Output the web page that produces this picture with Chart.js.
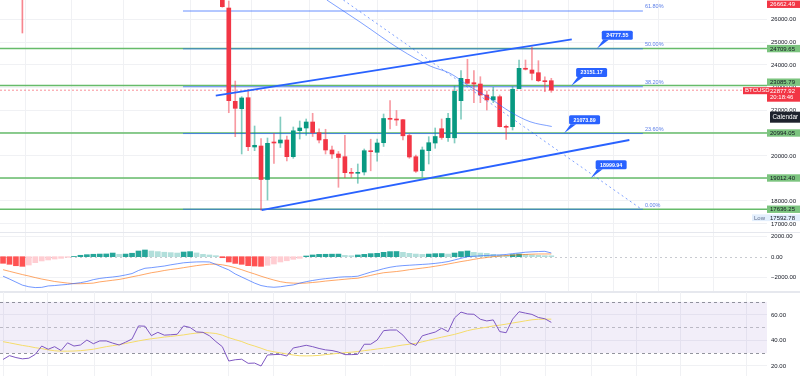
<!DOCTYPE html>
<html>
<head>
<meta charset="utf-8">
<title>BTCUSD</title>
<script src="https://cdn.jsdelivr.net/npm/chart.js@4.4.1/dist/chart.umd.min.js"></script>
<style>
  html, body { margin: 0; padding: 0; background: #fff; }
  #page { position: relative; width: 800px; height: 376px; overflow: hidden; }
  canvas { position: absolute; left: 0; }
  .sep { position: absolute; left: 0; width: 800px; background: #e6e8ee; }
</style>
</head>
<body>
<div id="page">
  <canvas id="priceChart" width="800" height="233" style="top:0"></canvas>
  <div class="sep" style="top:232px;height:1px"></div>
  <canvas id="macdChart" width="800" height="59" style="top:233px"></canvas>
  <div class="sep" style="top:291px;height:2px"></div>
  <canvas id="rsiChart" width="800" height="84" style="top:292px"></canvas>
</div>
<script>
const FONT = "'Liberation Sans', Arial, sans-serif";

// one bar per day, bar 0 at the left edge; earlier candles sit above the visible price range
const firstCandle = 34;
const opens  = [26950, 26497, 22389, 22063, 22548, 20377, 20421, 18946, 20575, 20553, 20685, 19950, 21095, 21214, 21478, 21007, 20707, 20245, 20069, 19950, 19263, 19219, 19276, 20214, 20144, 20566, 21623, 21588, 21579, 20883, 19950, 19334, 20214, 20553, 21183, 20787, 20782, 22416, 23358, 23208, 23151, 22667, 22447, 22592, 21271, 21271, 22944, 23842, 23767, 23649, 23296, 23296];
const highs  = [27050, 26806, 23283, 22592, 22918, 21302, 20751, 20773, 20972, 21698, 20861, 21258, 21522, 21610, 21861, 21178, 21157, 20421, 20179, 20892, 19439, 19629, 20289, 20720, 20729, 21830, 22416, 21984, 21597, 20949, 20025, 20377, 20831, 21214, 21610, 21861, 23063, 23737, 24239, 23737, 23472, 22843, 23006, 22667, 21346, 23032, 24208, 24208, 24777.55, 24177, 23472, 23402];
const lows   = [26530, 21887, 20831, 20069, 20214, 20214, 17592.78, 18043, 19651, 20355, 19761, 19880, 20729, 20892, 20839, 20553, 20069, 19871, 18603, 19025, 19034, 18779, 19144, 19329, 19748, 20399, 21170, 21324, 20685, 19880, 19254, 19056, 19629, 20320, 20716, 20619, 20553, 21597, 23173, 22328, 22328, 22006, 22328, 21258, 20716, 21126, 22944, 23767, 23327, 23252, 22812, 22786];
const closes = [26555, 22416, 22081, 22535, 20390, 20452, 18946, 20540, 20553, 20685, 19950, 21090, 21214, 21478, 21007, 20685, 20245, 20069, 19915, 19246, 19219, 19263, 20214, 20170, 20553, 21632, 21597, 21566, 20870, 19937, 19312, 20245, 20566, 20839, 20795, 21641, 22830, 23402, 23182, 23151, 22667, 22447, 22592, 21271, 21244, 22918, 23842, 23800, 23622, 23296, 23252, 22877.92];
// only the lower wick of this early bar reaches into view
const earlyBar = 3, earlyLow = 25397, earlyHigh = 27300;

const macdHist = [-650, -750, -890, -950, -820, -590, -420, -320, -230, -160, -60, 20, 140, 200, 240, 260, 270, 360, 240, 260, 340, 560, 660, 560, 500, 440, 400, 360, 460, 500, 370, 230, 170, 100, -100, -520, -660, -750, -880, -920, -950, -850, -720, -520, -400, -260, -160, 70, 170, 230, 240, 250, 256, 130, 100, 170, 230, 300, 330, 430, 500, 510, 430, 330, 260, 230, 260, 300, 310, 260, 360, 500, 560, 430, 360, 330, 230, 170, 130, 200, 260, 230, 170, 130, 100, 90];
const macdLine = [-1920, -2200, -2500, -2800, -2960, -3040, -3020, -2880, -2840, -2780, -2730, -2640, -2560, -2440, -2260, -2140, -2060, -2000, -1920, -1800, -1660, -1360, -1140, -1080, -1000, -920, -800, -700, -600, -550, -516, -504, -520, -760, -1040, -1300, -1700, -2000, -2300, -2600, -2840, -2960, -3010, -2960, -2860, -2780, -2600, -2460, -2340, -2240, -2160, -2100, -2020, -1980, -1970, -1920, -1720, -1520, -1360, -1180, -1040, -940, -880, -840, -800, -760, -720, -660, -580, -480, -320, -160, 0, 40, 90, 120, 150, 168, 220, 300, 370, 440, 480, 510, 530, 370];
const signalLine = [-1280, -1440, -1600, -1760, -1900, -2060, -2200, -2320, -2440, -2520, -2600, -2660, -2660, -2640, -2600, -2480, -2400, -2320, -2240, -2120, -1980, -1860, -1720, -1580, -1480, -1360, -1260, -1180, -1080, -980, -880, -800, -740, -730, -800, -920, -1080, -1280, -1500, -1700, -1920, -2120, -2300, -2460, -2560, -2600, -2620, -2600, -2540, -2480, -2400, -2340, -2280, -2220, -2160, -2120, -1980, -1840, -1700, -1580, -1520, -1460, -1380, -1280, -1200, -1120, -1040, -940, -840, -720, -600, -480, -380, -260, -160, -80, 0, 60, 110, 150, 190, 220, 250, 266, 270, 270];

const rsi = [25, 28, 26.5, 25.5, 26, 29, 35.5, 33, 35, 32, 38, 35.5, 36.3, 40.2, 37.3, 39.5, 39.5, 37.8, 36.3, 38.5, 41, 51.2, 51, 43.6, 46.2, 44, 44.3, 44.7, 51.2, 50, 46.5, 46.2, 43.5, 39, 35, 23.8, 24.8, 25.2, 22, 22.2, 19.9, 28.5, 28.8, 29, 27.7, 34, 35, 36.1, 35, 33.6, 32.5, 32, 30.8, 28.8, 28.8, 29, 36.9, 36.9, 40.2, 47.5, 48, 48, 44, 38, 36, 43.5, 45, 46.4, 49.4, 46.7, 57.5, 62, 60.5, 60.3, 56.4, 55.1, 55.9, 46.8, 45.9, 56.5, 62.3, 61.2, 60.2, 57.8, 56.8, 54];
const rsiMa = [38.9, 38, 37, 36, 35.2, 34.2, 33.5, 32.5, 31.8, 31.5, 31.5, 31.6, 31.9, 32.4, 33, 34, 35, 35.8, 36.6, 37.5, 38.5, 39.5, 40.4, 41.2, 41.8, 42.5, 43, 43.6, 44.2, 45, 45.6, 46, 45.8, 45.3, 44, 42, 40.5, 39, 37, 35.5, 33.8, 32, 31, 30.2, 29.3, 28.5, 27.9, 27.8, 27.9, 28.2, 28.8, 29.3, 29.8, 30.3, 30.7, 31.2, 31.9, 32.5, 33.2, 33.8, 34.5, 35.5, 36.3, 36.9, 37.6, 38.8, 40, 41.3, 42.4, 43.5, 44.6, 46, 47.5, 48.6, 49.4, 50.2, 51.2, 51.8, 52.6, 53.5, 54.3, 55.2, 56, 56.4, 56.5, 56.5];

// axes
const priceTicks = [17000, 18000, 19000, 20000, 21000, 22000, 23000, 24000, 25000, 26000];
const macdTicks = [-2000, 0, 2000];
const rsiTicks = [20, 40, 60];
const rsiLevels = [70, 50, 30];
const gridBars = [0, 6.93, 14.15, 23.05, 34.93, 42, 53.1, 63.1, 70.1, 77.1, 84.1, 91.2, 98.2, 105.1, 115.3];

// drawings
const supportLevels = [24709.65, 23085.79, 20994.05, 19012.40, 17636.25];
const fibLevels = [17636.25, 20969, 23031, 24698, 26365];
const fibNames = ['0.00%', '23.60%', '38.20%', '50.00%', '61.80%'];
const fibFrom = 27.9, fibTo = 99.2;
const upperX = [32.98, 88.17], upperY = [22636, 25119];
const lowerX = [40.1, 97.1], lowerY = [17592.78, 20685];
const dashX = [52.76, 99.0], dashY = [26850, 17636.25];
const curveX = [50.2, 55.35, 61.55, 66.2, 69.3, 72.4, 75.5, 78.6, 81.7, 85.07];
const curveY = [26850, 25881, 24679, 23944, 23622, 23032, 22521, 21931, 21491, 21280];
const calloutX = [92.05, 88.07, 86.98, 91.1];
const calloutY = [24700, 23063, 20980, 19000];
const calloutText = ['24777.55', '23151.17', '21073.89', '18999.94'];
const topTag = 26662.49;
const lastPrice = 22877.92, countdown = '20:18:46';
const rangeLow = 17592.78;

const X_MIN = -0.47, X_MAX = 118.44;
const UP = '#089981', DOWN = '#f23645';

function xAxis() {
  return {
    type: 'linear', min: X_MIN, max: X_MAX, offset: false,
    ticks: { display: false },
    grid: { color: '#f0f1f4', drawTicks: false },
    border: { display: false },
    afterBuildTicks: s => { s.ticks = gridBars.map(v => ({ value: v })); }
  };
}
function yAxis(min, max, ticks) {
  return {
    type: 'linear', position: 'right', min, max,
    ticks: { display: false },
    grid: { color: '#f0f1f4', drawTicks: false },
    border: { display: false },
    afterBuildTicks: s => { s.ticks = ticks.map(v => ({ value: v })); },
    afterFit: s => { s.width = 33; }
  };
}
function fmt(v) { return (v < 0 ? '\u2212' : '') + Math.abs(v).toFixed(2); }

function tag(ctx, left, py, text, bg, fg, w, h, dx) {
  if (bg) { ctx.fillStyle = bg; ctx.fillRect(left + dx, py - h / 2, w, h); }
  ctx.fillStyle = fg;
  ctx.fillText(text, left + dx + 3, py + 0.3);
}
function tickLabels(chart, ticks) {
  const { ctx, chartArea: a, scales: { y } } = chart;
  ctx.save();
  ctx.font = '6px ' + FONT; ctx.textBaseline = 'middle';
  ticks.forEach(v => tag(ctx, a.right, y.getPixelForValue(v), fmt(v), null, '#131722', 0, 0, 1));
  ctx.restore();
}
function seg(xs, ys) { return xs.map((x, k) => ({ x, y: ys[k] })); }
function hline(v, color, width, dash, from, to, order) {
  return { type: 'line', data: [{ x: from, y: v }, { x: to, y: v }], borderColor: color, borderWidth: width,
           borderDash: dash || [], pointRadius: 0, order };
}

// ---------- price pane ----------
const wickData = [{ x: earlyBar, y: [earlyLow, earlyHigh] }];
const wickColors = ['rgba(242,54,69,0.6)'];
const bodyData = [], bodyColors = [];
opens.forEach((o, k) => {
  const up = closes[k] >= o;
  wickData.push({ x: firstCandle + k, y: [lows[k], highs[k]] });
  wickColors.push(up ? 'rgba(8,153,129,0.5)' : 'rgba(242,54,69,0.5)');
  bodyData.push({ x: firstCandle + k, y: [o, closes[k]] });
  bodyColors.push(up ? UP : DOWN);
});

const priceDatasets = [];
supportLevels.forEach(v => priceDatasets.push(hline(v, '#66bb6a', 1.5, null, X_MIN, X_MAX, 6)));
fibLevels.forEach(v => priceDatasets.push(hline(v, 'rgba(41,98,255,0.7)', 1, null, fibFrom, fibTo, 5)));
priceDatasets.push(hline(lastPrice, 'rgba(242,54,69,0.55)', 1, [2, 2], X_MIN, X_MAX, 5));
priceDatasets.push({ type: 'bar', data: wickData, backgroundColor: wickColors, barThickness: 1, grouped: false, minBarLength: 1, order: 4 });
priceDatasets.push({ type: 'bar', data: bodyData, backgroundColor: bodyColors, barThickness: 4, grouped: false, minBarLength: 1, order: 3 });
priceDatasets.push({ type: 'line', data: seg(upperX, upperY), borderColor: '#2962ff', borderWidth: 1.8, pointRadius: 0, order: 1 });
priceDatasets.push({ type: 'line', data: seg(lowerX, lowerY), borderColor: '#2962ff', borderWidth: 1.8, pointRadius: 0, order: 1 });
priceDatasets.push({ type: 'line', data: seg(dashX, dashY), borderColor: 'rgba(41,98,255,0.6)', borderWidth: 1, borderDash: [2, 3], pointRadius: 0, order: 1 });
priceDatasets.push({ type: 'line', data: seg(curveX, curveY), borderColor: 'rgba(41,98,255,0.6)', borderWidth: 1, pointRadius: 0, cubicInterpolationMode: 'monotone', order: 1 });

const priceDecor = {
  id: 'priceDecor',
  afterDatasetsDraw(chart) {
    const { ctx, scales: { x, y } } = chart;
    ctx.save();
    ctx.font = '5.5px ' + FONT; ctx.fillStyle = '#5b7ee8'; ctx.textBaseline = 'bottom';
    fibLevels.forEach((v, k) => ctx.fillText(fibNames[k], x.getPixelForValue(fibTo) + 2, y.getPixelForValue(v) - 1.5));
    calloutText.forEach((t, k) => {
      const px = x.getPixelForValue(calloutX[k]), py = y.getPixelForValue(calloutY[k]);
      const bx = px + 5, by = py - 18, bw = 31, bh = 9;
      ctx.fillStyle = '#2962ff';
      ctx.beginPath(); ctx.moveTo(px, py); ctx.lineTo(bx + 1.5, by + bh); ctx.lineTo(bx + 7, by + bh); ctx.closePath(); ctx.fill();
      ctx.beginPath(); ctx.roundRect(bx, by, bw, bh, 1.5); ctx.fill();
      ctx.fillStyle = '#fff'; ctx.font = 'bold 5.3px ' + FONT; ctx.textAlign = 'center'; ctx.textBaseline = 'middle';
      ctx.fillText(t, bx + bw / 2, by + bh / 2 + 0.3);
      ctx.textAlign = 'left';
    });
    ctx.restore();
  },
  afterDraw(chart) {
    tickLabels(chart, priceTicks);
    const { ctx, chartArea: a, scales: { y } } = chart;
    const L = a.right;
    ctx.save();
    ctx.font = '6px ' + FONT; ctx.textBaseline = 'middle';
    tag(ctx, L, y.getPixelForValue(topTag), topTag.toFixed(2), DOWN, '#fff', 33, 7.4, 0);
    const shift = [0, -3.3, 0, 0, 0];
    supportLevels.forEach((v, k) => tag(ctx, L, y.getPixelForValue(v) + shift[k], v.toFixed(2), '#7cc47f', '#131722', 33, 7.4, 0));
    const py = y.getPixelForValue(lastPrice);
    ctx.fillStyle = DOWN; ctx.fillRect(L, py - 3, 33, 14.5);
    ctx.fillStyle = '#fff';
    ctx.fillText(lastPrice.toFixed(2), L + 3, py + 0.8);
    ctx.fillText(countdown, L + 3, py + 7.6);
    ctx.fillStyle = DOWN; ctx.fillRect(L - 24, py - 3, 24, 7);
    ctx.fillStyle = '#fff'; ctx.fillText('BTCUSD', L - 22, py + 0.6);
    const pl = y.getPixelForValue(rangeLow) + 7.5;
    ctx.fillStyle = '#e3effd'; ctx.fillRect(L - 15, pl - 3.4, 48, 6.8);
    ctx.fillStyle = '#5d6b8a'; ctx.fillText('Low', L - 13, pl + 0.3);
    ctx.fillStyle = '#131722'; ctx.fillText(rangeLow.toFixed(2), L + 3, pl + 0.3);
    ctx.fillStyle = '#1e222d'; ctx.fillRect(770, 111.7, 30, 11);
    ctx.fillStyle = '#fff'; ctx.font = '6.3px ' + FONT; ctx.fillText('Calendar', 772.5, 117.4);
    ctx.restore();
  }
};

new Chart(document.getElementById('priceChart'), {
  type: 'bar',
  data: { datasets: priceDatasets },
  options: {
    responsive: false, animation: false,
    layout: { padding: 0 },
    plugins: { legend: { display: false }, tooltip: { enabled: false } },
    scales: { x: xAxis(), y: yAxis(16590, 26850, priceTicks) }
  },
  plugins: [priceDecor]
});

// ---------- MACD pane ----------
const histColors = macdHist.map((v, k) => {
  const prev = k ? macdHist[k - 1] : v;
  if (v >= 0) return v >= prev ? '#26a69a' : '#b2dfdb';
  return v > prev ? '#ffcdd2' : '#ff5252';
});
const macdDecor = {
  id: 'macdDecor',
  beforeDatasetsDraw(chart) {
    const { ctx, chartArea: a, scales: { y } } = chart;
    const p = Math.round(y.getPixelForValue(0)) + 0.5;
    ctx.save();
    ctx.strokeStyle = '#c8cad0'; ctx.lineWidth = 1; ctx.setLineDash([2, 3]);
    ctx.beginPath(); ctx.moveTo(a.left, p); ctx.lineTo(a.right, p); ctx.stroke();
    ctx.restore();
  },
  afterDraw(chart) { tickLabels(chart, macdTicks); }
};
new Chart(document.getElementById('macdChart'), {
  type: 'bar',
  data: {
    datasets: [
      { type: 'line', data: macdLine.map((v, i) => ({ x: i, y: v })), borderColor: 'rgba(41,98,255,0.65)', borderWidth: 1, pointRadius: 0, order: 1 },
      { type: 'line', data: signalLine.map((v, i) => ({ x: i, y: v })), borderColor: 'rgba(255,109,0,0.6)', borderWidth: 1, pointRadius: 0, order: 1 },
      { type: 'bar', data: macdHist.map((v, i) => ({ x: i, y: v })), backgroundColor: histColors, barThickness: 5, grouped: false, order: 2 }
    ]
  },
  options: {
    responsive: false, animation: false,
    plugins: { legend: { display: false }, tooltip: { enabled: false } },
    scales: { x: xAxis(), y: yAxis(-3477, 2334, macdTicks.filter(v => v !== 0)) }
  },
  plugins: [macdDecor]
});

// ---------- RSI pane ----------
const rsiDecor = {
  id: 'rsiDecor',
  beforeDatasetsDraw(chart) {
    const { ctx, chartArea: a, scales: { y } } = chart;
    const top = y.getPixelForValue(rsiLevels[0]), bot = y.getPixelForValue(rsiLevels[2]);
    ctx.save();
    ctx.fillStyle = 'rgba(126,87,194,0.1)';
    ctx.fillRect(a.left, top, a.right - a.left, bot - top);
    ctx.lineWidth = 1; ctx.setLineDash([3, 3]);
    rsiLevels.forEach((v, k) => {
      const p = Math.round(y.getPixelForValue(v)) + 0.5;
      ctx.strokeStyle = k === 1 ? 'rgba(120,123,134,0.45)' : 'rgba(120,123,134,0.8)';
      ctx.beginPath(); ctx.moveTo(a.left, p); ctx.lineTo(a.right, p); ctx.stroke();
    });
    ctx.restore();
  },
  afterDraw(chart) { tickLabels(chart, rsiTicks); }
};
new Chart(document.getElementById('rsiChart'), {
  type: 'line',
  data: {
    datasets: [
      { data: rsi.map((v, i) => ({ x: i, y: v })), borderColor: '#7e57c2', borderWidth: 1, pointRadius: 0 },
      { data: rsiMa.map((v, i) => ({ x: i, y: v })), borderColor: '#f5dc6a', borderWidth: 1, pointRadius: 0 }
    ]
  },
  options: {
    responsive: false, animation: false,
    plugins: { legend: { display: false }, tooltip: { enabled: false } },
    scales: { x: xAxis(), y: yAxis(12.1, 77.7, rsiTicks) }
  },
  plugins: [rsiDecor]
});
</script>
</body>
</html>
